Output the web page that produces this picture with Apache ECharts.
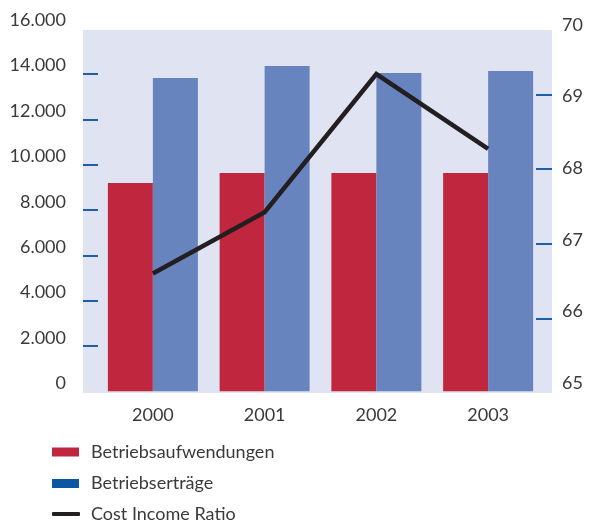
<!DOCTYPE html>
<html><head><meta charset="utf-8">
<script src="https://cdn.jsdelivr.net/npm/echarts@6/dist/echarts.min.js"></script>
<style>html,body{margin:0;padding:0;background:#fff}#c{width:589px;height:524px}</style>
</head><body><div id="c"></div>
<script>
const years = ['2000', '2001', '2002', '2003'];
const aufwendungen = [9190, 9630, 9630, 9630];
const ertraege = [13820, 14350, 14040, 14130];
const cir = [66.6, 67.42, 69.27, 68.27];
const leftTicks = [0, 16000, 2000];
const rightTicks = [65, 70, 1];

const FONT = 'Lato';
const TXT = '#3a3a3a';
const TICK = '#1f5fa8';
const chart = echarts.init(document.getElementById('c'), null, {renderer: 'canvas'});

function hiddenX(g, cat) {
  return {gridIndex: g, type: cat ? 'category' : 'value', data: cat ? years : undefined, show: false};
}
const grids = [
  {left: 83, right: 37, top: 30, bottom: 131, show: true, backgroundColor: '#dfe3f2', borderWidth: 0},
  {left: 83, right: 37, top: 20, bottom: 140.5},
  {left: 83, right: 37, top: 74, bottom: 178},
  {left: 83, right: 37, top: 94.3, bottom: 205.7},
  {left: 83, right: 37, top: 25, bottom: 141},
  {left: 97, right: 45, top: 28.7, bottom: 132.7},
  {left: 97, right: 45, top: 19.6, bottom: 131}
];
const noLine = {show: false};
const option = {
  animation: false,
  grid: grids,
  xAxis: [
    hiddenX(0, true), hiddenX(1, true), hiddenX(2, true), hiddenX(3, true), hiddenX(4, true),
    {gridIndex: 5, type: 'category', data: years, axisLine: noLine, axisTick: noLine,
     axisLabel: {fontFamily: FONT, fontSize: 18, color: TXT, margin: 15}},
    hiddenX(6, true)
  ],
  yAxis: [
    {gridIndex: 0, type: 'value', show: false, min: 0, max: 1},
    {gridIndex: 1, type: 'value', min: leftTicks[0], max: leftTicks[1], interval: leftTicks[2],
     axisLine: noLine, axisTick: noLine, splitLine: noLine,
     axisLabel: {fontFamily: FONT, fontSize: 18, color: TXT, margin: 17,
       formatter: v => v === 0 ? '0' : (v / 1000).toFixed(3)}},
    {gridIndex: 2, type: 'value', min: 2000, max: 14000, interval: 2000,
     axisLine: noLine, splitLine: noLine, axisLabel: noLine,
     axisTick: {show: true, inside: true, length: 15, lineStyle: {color: TICK, width: 2}}},
    {gridIndex: 3, type: 'value', position: 'right', min: 66, max: 69, interval: 1,
     axisLine: noLine, splitLine: noLine, axisLabel: noLine,
     axisTick: {show: true, inside: true, length: 16, lineStyle: {color: TICK, width: 2}}},
    {gridIndex: 4, type: 'value', position: 'right', min: rightTicks[0], max: rightTicks[1], interval: rightTicks[2],
     axisLine: noLine, axisTick: noLine, splitLine: noLine,
     axisLabel: {fontFamily: FONT, fontSize: 18, color: TXT, margin: 10}},
    {gridIndex: 5, type: 'value', show: false, min: 0, max: 16000},
    {gridIndex: 6, type: 'value', show: false, min: 65, max: 70}
  ],
  legend: [
    {orient: 'vertical', left: 52, top: 442, padding: 0, itemWidth: 27, itemHeight: 9, itemGap: 11.5, icon: 'rect',
     textStyle: {fontFamily: FONT, fontSize: 18, color: TXT, lineHeight: 20, padding: [0, 0, 0, 7]},
     data: [{name: 'Betriebsaufwendungen', itemStyle: {color: '#c0273f'}},
            {name: 'Betriebserträge', itemStyle: {color: '#0b57a4'}}]},
    {orient: 'vertical', left: 52, top: 504, padding: 0, itemWidth: 28, itemHeight: 4, icon: 'roundRect',
     textStyle: {fontFamily: FONT, fontSize: 18, color: TXT, lineHeight: 20, padding: [0, 0, 0, 6]},
     data: [{name: 'Cost Income Ratio', itemStyle: {color: '#231f20'}}]}
  ],
  series: [
    {name: 'Betriebsaufwendungen', type: 'bar', xAxisIndex: 5, yAxisIndex: 5, data: aufwendungen,
     barWidth: 45, barGap: '0%', itemStyle: {color: '#c0273f'}},
    {name: 'Betriebserträge', type: 'bar', xAxisIndex: 5, yAxisIndex: 5, data: ertraege,
     barWidth: 45, barGap: '0%', itemStyle: {color: '#6884be'}},
    {name: 'Cost Income Ratio', type: 'line', xAxisIndex: 6, yAxisIndex: 6, data: cir,
     symbol: 'none', z: 5, lineStyle: {color: '#231f20', width: 4.5, join: 'miter'}, itemStyle: {color: '#231f20'}}
  ]
};
chart.setOption(option);
</script></body></html>
